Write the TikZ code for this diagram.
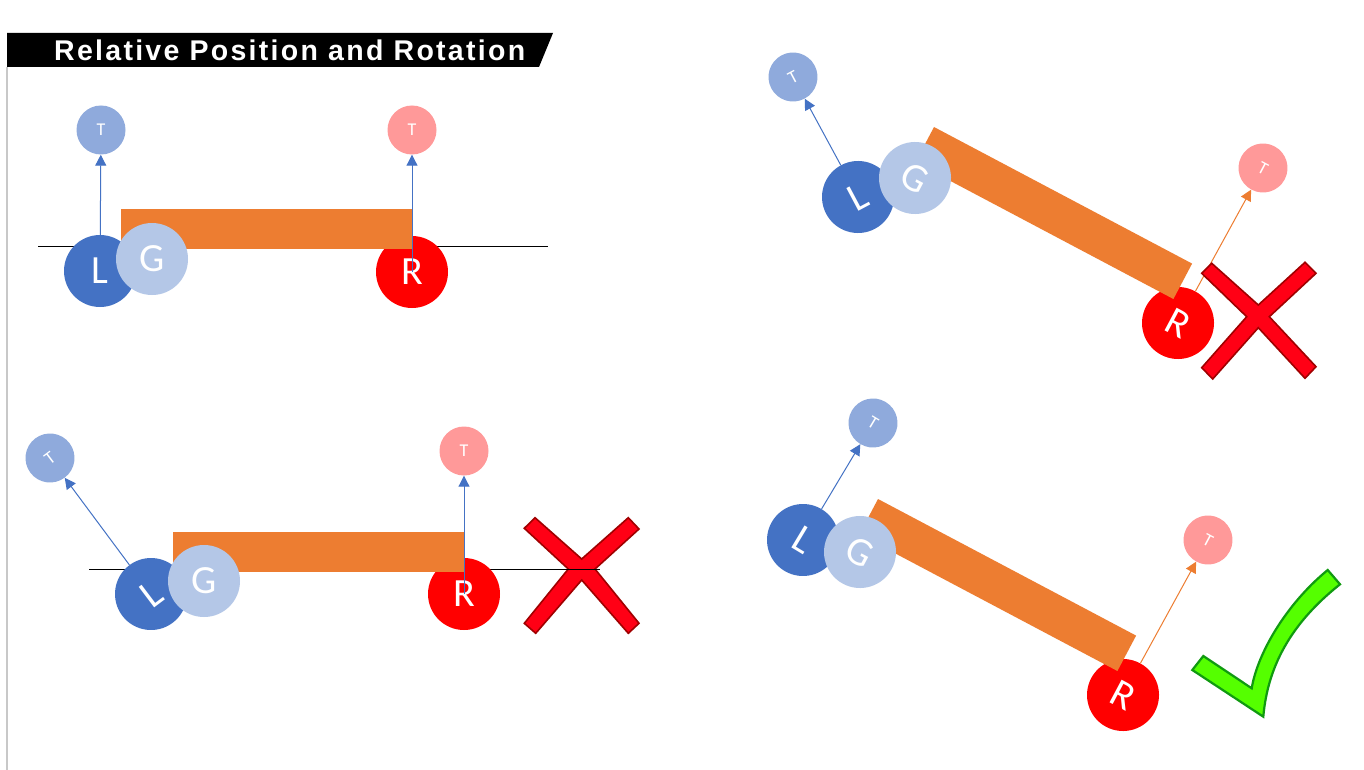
\documentclass[tikz,border=0pt]{standalone}
\usepackage{fontspec}
\setmainfont{Carlito}
\newfontfamily\titlefont{Liberation Sans}[LetterSpace=8]
\usetikzlibrary{arrows.meta}
\definecolor{jblue}{HTML}{4472C4}
\definecolor{jgray}{HTML}{B4C7E7}
\definecolor{jred}{HTML}{FF0000}
\definecolor{tblue}{HTML}{8FAADC}
\definecolor{tred}{HTML}{FF9999}
\definecolor{barorange}{HTML}{ED7D31}
\definecolor{xfill}{HTML}{FF0015}
\definecolor{xline}{HTML}{A00000}
\definecolor{okfill}{HTML}{55FF00}
\definecolor{okline}{HTML}{109A10}
\definecolor{sidegray}{HTML}{C8C8C8}
\tikzset{
  joint/.style={circle, inner sep=0pt, minimum size=72pt, text=white,
    font=\fontsize{40}{40}\selectfont},
  jointL/.style={joint, fill=jblue},
  jointG/.style={joint, fill=jgray},
  jointR/.style={joint, fill=jred},
  tip/.style={circle, inner sep=0pt, minimum size=49pt, text=white,
    font=\fontsize{18}{18}\selectfont},
  tipB/.style={tip, fill=tblue},
  tipR/.style={tip, fill=tred},
  arrB/.style={draw=jblue, line width=1pt, -{Triangle[length=11pt,width=11pt]}},
  arrO/.style={draw=barorange, line width=1pt, -{Triangle[length=11pt,width=11pt]}},
  bar/.style={fill=barorange},
  ground/.style={draw=black, line width=0.9pt},
  cross/.style={fill=xfill, draw=xline, line width=1.6pt, line join=miter},
  okmark/.style={fill=okfill, draw=okline, line width=2.2pt, line join=miter}
}
\begin{document}
\begin{tikzpicture}[x=1pt,y=-1pt]
\useasboundingbox (0,0) rectangle (1364,770);
\fill[white] (0,0) rectangle (1364,770);

% title
\draw[sidegray, line width=1.5pt] (7,67) -- (7,770);
\fill[black] (7,33) -- (553,33) -- (539,67) -- (7,67) -- cycle;
\node[anchor=base west, inner sep=0pt, text=white,
  font=\titlefont\bfseries\fontsize{28.5}{28.5}\selectfont] (title) at (54,61)
  {Relative Position and Rotation};

% ---------- top left ----------
\draw[ground] (38,246) -- (548,246);
\node[jointR] (R1) at (412,272) {R};
\fill[bar] (121,209) rectangle (413,249);
\node[jointL] (L1) at (100,271) {L};
\node[jointG] (G1) at (152,259) {G};
\node[tipB] (TL1) at (101,130) {T};
\node[tipR] (TR1) at (412,130) {T};
\draw[arrB] (L1) -- (TL1);
\draw[arrB] (R1.center) -- (TR1);

% ---------- top right ----------
\node[jointR, rotate=-28] (R2) at (1178,323) {R};
\fill[bar] (934,127) -- (1192.1,263.6) -- (1173.4,299.0) -- (915.3,162.4) -- cycle;
\node[jointL, rotate=28] (L2) at (858,197) {L};
\node[jointG, rotate=-28] (G2) at (915,178) {G};
\node[tipB, rotate=28] (TL2) at (793,77) {T};
\node[tipR, rotate=-28] (TR2) at (1263,168) {T};
\draw[arrB] (L2) -- (TL2);
\draw[arrO] (R2) -- (TR2);
\path[cross] (1201.7,273.3) -- (1211.7,263.3) -- (1258.3,305) -- (1305,262.3)
  -- (1316,273.3) -- (1269.3,316.7) -- (1316,366.7) -- (1305,378.3)
  -- (1258.3,327.7) -- (1212.7,379) -- (1201.7,367.7) -- (1246.7,316.7) -- cycle;

% ---------- bottom left ----------
\path[cross] (524.3,528.3) -- (535,517.7) -- (581.7,559) -- (628.3,517.7)
  -- (639,529) -- (595,569) -- (639,623.3) -- (628.3,633.3)
  -- (581.7,580) -- (535.7,633.3) -- (524.3,623.3) -- (568.3,569) -- cycle;
\draw[ground] (89,569) -- (600,569);
\node[jointR] (R3) at (464,594) {R};
\fill[bar] (173,532) rectangle (465,572);
\node[jointL, rotate=37] (L3) at (151,594) {L};
\node[jointG] (G3) at (204,581) {G};
\node[tipB, rotate=37] (TL3) at (50,458) {T};
\node[tipR] (TR3) at (464,451) {T};
\draw[arrB] (L3) -- (TL3);
\draw[arrB] (R3.center) -- (TR3);

% ---------- bottom right ----------
\node[jointR, rotate=-28] (R4) at (1123,695) {R};
\fill[bar] (878,499) -- (1136.1,635.6) -- (1117.4,671.0) -- (859.3,534.4) -- cycle;
\node[jointL, rotate=-31] (L4) at (803,540) {L};
\node[jointG, rotate=-28] (G4) at (860,552) {G};
\node[tipB, rotate=-31] (TL4) at (873,423) {T};
\node[tipR, rotate=-28] (TR4) at (1208,540) {T};
\draw[arrB] (L4) -- (TL4);
\draw[arrO] (R4) -- (TR4);
\path[okmark] (1203.3,656) -- (1251.7,688.3)
  .. controls (1257,655) and (1285,605) .. (1327.7,570) -- (1340,584.3)
  .. controls (1295,620) and (1268,662) .. (1263.3,716.7) -- (1192.3,670) -- cycle;
\end{tikzpicture}
\end{document}
